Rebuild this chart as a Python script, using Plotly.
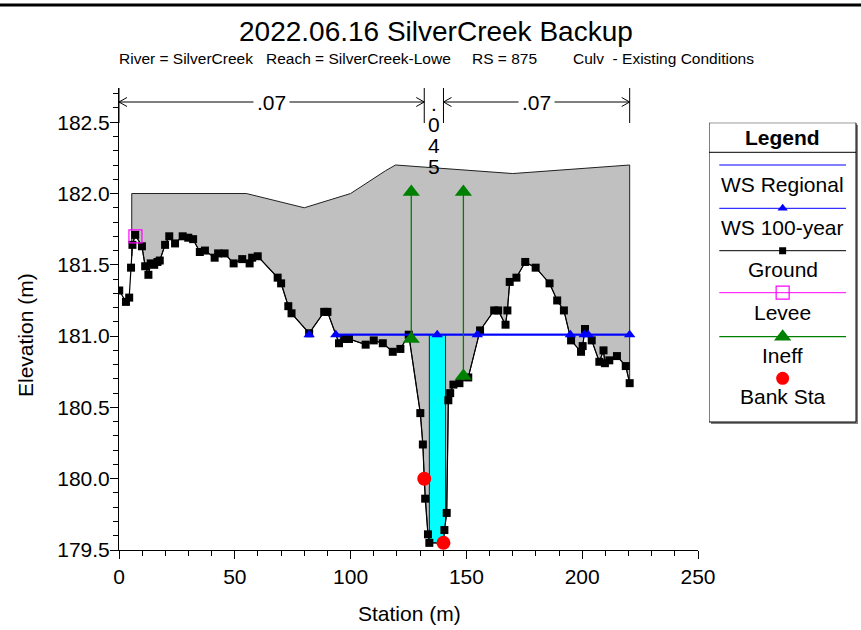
import numpy as np
import plotly.graph_objects as go

# ---------------- data ----------------
# Ground survey points (station m, elevation m)
ground_sta = [0.1, 3.0, 4.4, 5.2, 5.8, 7.0, 9.9, 11.3, 12.7, 13.7, 15.2, 16.6, 17.6,
              19.9, 21.7, 24.2, 27.5, 29.9, 32.0, 34.9, 37.1, 41.3, 42.8, 45.6, 49.5,
              53.2, 56.4, 57.5, 59.9, 68.5, 70.0, 73.1, 74.5, 82.1, 88.6, 90.0, 95.0,
              97.2, 99.3, 106.5, 110.0, 113.9, 118.2, 121.5, 125.1, 130.1, 131.2, 131.8,
              132.2, 133.4, 134.0, 140.1, 140.5, 141.5, 142.2, 143.0, 144.4, 147.0,
              150.8, 155.9, 162.0, 163.7, 166.9, 167.7, 168.7, 171.6, 175.4, 179.9,
              185.9, 189.2, 192.1, 195.2, 199.5, 200.2, 201.2, 204.1, 207.4, 209.2,
              209.8, 211.7, 215.0, 218.8, 220.5]
ground_elev = [181.32, 181.24, 181.27, 181.48, 181.64, 181.71, 181.63, 181.49, 181.43,
               181.51, 181.50, 181.52, 181.53, 181.64, 181.70, 181.65, 181.70, 181.69,
               181.68, 181.59, 181.60, 181.55, 181.58, 181.58, 181.51, 181.54, 181.51,
               181.55, 181.56, 181.41, 181.37, 181.21, 181.16, 181.02, 181.17, 181.17,
               180.95, 180.98, 180.98, 180.94, 180.97, 180.95, 180.89, 180.91, 181.01,
               180.46, 180.24, 180.00, 179.86, 179.61, 179.55, 179.55, 179.64, 179.76,
               180.55, 180.60, 180.66, 180.67, 180.71, 181.04, 181.18, 181.18, 181.08,
               181.18, 181.38, 181.41, 181.52, 181.48, 181.37, 181.25, 181.18, 180.97,
               180.89, 180.93, 181.05, 180.97, 180.82, 180.90, 180.81, 180.83, 180.86,
               180.79, 180.67]

# Road embankment top (deck)
deck_sta = [5.5, 55.0, 80.0, 100.0, 115.1, 119.4, 170.0, 220.5]
deck_elev = [182.00, 182.00, 181.90, 182.00, 182.16, 182.20, 182.14, 182.20]

# Culvert opening
culvert_sta = [134.0, 141.0]
culvert_top = 181.01

# Water surfaces
ws_100_elev = 181.01
ws_100_sta = [82.1, None, 93.6, 137.4, 154.7, 194.9, 200.9, 202.6, 220.5]
ws_reg_elev = 181.01
ws_reg_sta = [93.6, 220.5]

# Levee, ineffective flow areas, bank stations
levee_sta = [7.1]
levee_elev = [181.70]
ineff_sta = [126.2, 148.7]
ineff_top = [182.01, 182.01]
ineff_bottom = [180.98, 180.72]
bank_sta = [131.8, 140.1]
bank_elev = [180.00, 179.55]

# Manning's n breaks and values
n_break_sta = [0.0, 131.8, 140.1, 220.5]
n_values = [".07", ".045", ".07"]

title_text = "2022.06.16 SilverCreek Backup"
subtitle_parts = ["River = SilverCreek", "Reach = SilverCreek-Lowe", "RS = 875",
                  "Culv  - Existing Conditions"]
legend_labels = ["WS Regional", "WS 100-year", "Ground", "Levee", "Ineff", "Bank Sta"]

x_range = [0, 250]
y_range = [179.5, 182.74]

# ---------------- layout constants ----------------
FONT = "Arial, Liberation Sans, sans-serif"
W, H = 861, 630
L, R, T, B = 119, 2, 88, 80
PW, PH = W - L - R, H - T - B
BOTTOM = H - B
X_END_PX = 698


def px_x(p):
    return (p - L) / PW


def px_y(p):
    return (BOTTOM - p) / PH


X_PX_PER = (X_END_PX - L) / (x_range[1] - x_range[0])
Y_PX_PER = PH / (y_range[1] - y_range[0])

BLUE, GREEN, MAG, RED = "#0000ff", "#008000", "#ff00ff", "#ff0000"

gs = np.array(ground_sta)
ge = np.array(ground_elev)

fig = go.Figure()

# Embankment fill between the deck top and the ground
d0, d1 = deck_sta[0], deck_sta[-1]
inner = (gs > d0) & (gs < d1)
poly_x = deck_sta + [d1] + list(gs[inner][::-1]) + [d0, d0]
poly_y = deck_elev + [float(np.interp(d1, gs, ge))] + list(ge[inner][::-1]) + \
    [float(np.interp(d0, gs, ge)), deck_elev[0]]
fig.add_trace(go.Scatter(x=poly_x, y=poly_y, mode="lines", fill="toself",
                         fillcolor="#c0c0c0", line=dict(color="#202020", width=1),
                         hoverinfo="skip", showlegend=False))

# Culvert opening filled with water
cl, cr = culvert_sta
inner_c = (gs > cl) & (gs < cr)
gl, gr = float(np.interp(cl, gs, ge)), float(np.interp(cr, gs, ge))
cx = [cl, cr, cr] + list(gs[inner_c][::-1]) + [cl, cl]
cy = [culvert_top, culvert_top, gr] + list(ge[inner_c][::-1]) + [gl, culvert_top]
fig.add_trace(go.Scatter(x=cx, y=cy, mode="lines", fill="toself", fillcolor="#00ffff",
                         line=dict(width=0), hoverinfo="skip", showlegend=False))
fig.add_trace(go.Scatter(x=[cl, cl, None, cr, cr], y=[gl, culvert_top, None, gr, culvert_top],
                         mode="lines", line=dict(color="#202020", width=1),
                         hoverinfo="skip", showlegend=False))

# Ground
fig.add_trace(go.Scatter(x=ground_sta, y=ground_elev, mode="lines+markers",
                         line=dict(color="black", width=1.2),
                         marker=dict(symbol="square", size=8, color="black"),
                         hoverinfo="skip", showlegend=False))

# Water surfaces
fig.add_trace(go.Scatter(x=ws_reg_sta, y=[ws_reg_elev] * len(ws_reg_sta), mode="lines",
                         line=dict(color=BLUE, width=1.8), hoverinfo="skip", showlegend=False))
fig.add_trace(go.Scatter(x=ws_100_sta,
                         y=[None if s is None else ws_100_elev for s in ws_100_sta],
                         mode="lines+markers", line=dict(color=BLUE, width=1.8),
                         marker=dict(symbol="triangle-up", size=10, color=BLUE),
                         hoverinfo="skip", showlegend=False))

# Ineffective flow areas
ix, iy = [], []
for s, top, bot in zip(ineff_sta, ineff_top, ineff_bottom):
    ix += [s, s, None]
    iy += [bot, top, None]
fig.add_trace(go.Scatter(x=ix, y=iy, mode="lines+markers", line=dict(color=GREEN, width=1.3),
                         marker=dict(symbol="triangle-up", size=15, color=GREEN),
                         hoverinfo="skip", showlegend=False))

# Levee
fig.add_trace(go.Scatter(x=levee_sta, y=levee_elev, mode="markers",
                         marker=dict(symbol="square-open", size=13, color=MAG,
                                     line=dict(width=1.2, color=MAG)),
                         hoverinfo="skip", showlegend=False))

# Bank stations
fig.add_trace(go.Scatter(x=bank_sta, y=bank_elev, mode="markers",
                         marker=dict(symbol="circle", size=14, color=RED),
                         hoverinfo="skip", showlegend=False))

# Manning's n extents drawn above the section
bar_top = y_range[1]
bar_bot = y_range[1] - 35 / Y_PX_PER
arrow_y = y_range[1] - 14 / Y_PX_PER
chev_dx = 8 / X_PX_PER
chev_dy = 4.5 / Y_PX_PER
nx, ny = [], []
for s in n_break_sta:
    nx += [s, s, None]
    ny += [bar_bot, bar_top, None]
annotations = []
for i, val in enumerate(n_values):
    a, b = n_break_sta[i], n_break_sta[i + 1]
    mid = (a + b) / 2
    if (b - a) * X_PX_PER > 40:
        nx += [a, b, None,
               a + chev_dx, a, a + chev_dx, None,
               b - chev_dx, b, b - chev_dx, None]
        ny += [arrow_y, arrow_y, None,
               arrow_y + chev_dy, arrow_y, arrow_y - chev_dy, None,
               arrow_y + chev_dy, arrow_y, arrow_y - chev_dy, None]
        annotations.append(dict(x=mid, y=arrow_y, xref="x", yref="y", text=val,
                                showarrow=False, bgcolor="white", borderpad=3,
                                xanchor="center", yanchor="middle",
                                font=dict(family=FONT, size=21, color="black")))
    else:
        for k, ch in enumerate(val):
            annotations.append(dict(x=mid, y=arrow_y - (1 + 21 * k) / Y_PX_PER,
                                    xref="x", yref="y", text=ch, showarrow=False,
                                    xanchor="center", yanchor="middle",
                                    font=dict(family=FONT, size=21, color="black")))
fig.add_trace(go.Scatter(x=nx, y=ny, mode="lines", line=dict(color="black", width=1),
                         hoverinfo="skip", showlegend=False, cliponaxis=False))

# ---------------- legend panel ----------------
LW, LH = 147, 299.3
line_x0, line_x1 = 10.3, 137.0
lmid = (line_x0 + line_x1) / 2
sample_y = [42.3, 85.6, 128.0, 170.0, 214.0, 255.6]
label_y = [61.8, 104.5, 146.8, 189.5, 232.8, 273.8]
sample_style = [
    dict(color=BLUE, width=1, marker=None),
    dict(color=BLUE, width=1, marker=dict(symbol="triangle-up", size=9, color=BLUE)),
    dict(color="black", width=1, marker=dict(symbol="square", size=7, color="black")),
    dict(color=MAG, width=1, marker=dict(symbol="square-open", size=13, color=MAG,
                                         line=dict(width=1.2, color=MAG))),
    dict(color=GREEN, width=1.3, marker=dict(symbol="triangle-up", size=15, color=GREEN)),
    dict(color=None, width=0, marker=dict(symbol="circle", size=13, color=RED)),
]
for yy, st in zip(sample_y, sample_style):
    if st["color"] is not None:
        fig.add_trace(go.Scatter(x=[line_x0, line_x1], y=[yy, yy], mode="lines",
                                 line=dict(color=st["color"], width=st["width"]),
                                 xaxis="x2", yaxis="y2", hoverinfo="skip", showlegend=False))
    if st["marker"] is not None:
        fig.add_trace(go.Scatter(x=[lmid], y=[yy], mode="markers", marker=st["marker"],
                                 xaxis="x2", yaxis="y2", hoverinfo="skip", showlegend=False))
for yy, lab in zip(label_y, legend_labels):
    annotations.append(dict(x=lmid, y=yy, xref="x2", yref="y2", text=lab, showarrow=False,
                            xanchor="center", yanchor="middle",
                            font=dict(family=FONT, size=21, color="black")))
annotations.append(dict(x=lmid, y=15, xref="x2", yref="y2", text="<b>Legend</b>",
                        showarrow=False, xanchor="center", yanchor="middle",
                        font=dict(family=FONT, size=21, color="black")))

shapes = [
    dict(type="rect", xref="x2", yref="y2", x0=2, x1=LW + 2, y0=2, y1=LH + 2,
         fillcolor="#808080", line=dict(width=0), layer="below"),
    dict(type="rect", xref="x2", yref="y2", x0=0, x1=LW, y0=0, y1=LH,
         fillcolor="white", line=dict(color="black", width=1), layer="below"),
    dict(type="line", xref="x2", yref="y2", x0=0, x1=LW, y0=29.6, y1=29.6,
         line=dict(color="black", width=1)),
    dict(type="line", xref="paper", yref="paper", x0=px_x(-5), x1=px_x(W + 5),
         y0=px_y(5), y1=px_y(5), line=dict(color="black", width=3)),
]

# ---------------- titles ----------------
annotations.append(dict(x=px_x(436), y=px_y(31), xref="paper", yref="paper",
                        text=title_text, showarrow=False, xanchor="center", yanchor="middle",
                        font=dict(family=FONT, size=28, color="black")))
for p, txt in zip([117, 264, 470, 571], subtitle_parts):
    annotations.append(dict(x=px_x(p), y=px_y(59), xref="paper", yref="paper", text=txt,
                            showarrow=False, xanchor="left", yanchor="middle",
                            font=dict(family=FONT, size=15.5, color="black")))
annotations.append(dict(x=px_x(25), y=px_y(335), xref="paper", yref="paper",
                        text="Elevation (m)", textangle=-90, showarrow=False,
                        xanchor="center", yanchor="middle",
                        font=dict(family=FONT, size=21, color="black")))
annotations.append(dict(x=px_x(409), y=px_y(613), xref="paper", yref="paper",
                        text="Station (m)", showarrow=False,
                        xanchor="center", yanchor="middle",
                        font=dict(family=FONT, size=21, color="black")))

axis_common = dict(showgrid=False, zeroline=False, showline=True, linecolor="black",
                   linewidth=1, ticks="outside", ticklen=8, tickwidth=1, tickcolor="black",
                   automargin=False,
                   tickfont=dict(family=FONT, size=21, color="black"))

fig.update_layout(
    width=W, height=H, autosize=False,
    margin=dict(l=L, r=R, t=T, b=B, autoexpand=False),
    paper_bgcolor="white", plot_bgcolor="white",
    showlegend=False,
    xaxis=dict(domain=[0, px_x(X_END_PX)], range=x_range, dtick=50, tick0=0,
               minor=dict(dtick=10, ticklen=5, ticks="outside", tickcolor="black", showgrid=False),
               **axis_common),
    yaxis=dict(domain=[0, 1], range=y_range, dtick=0.5, tick0=179.5, tickformat=".1f",
               ticklabelstandoff=-4,
               minor=dict(dtick=0.1, ticklen=5, ticks="outside", tickcolor="black", showgrid=False),
               **axis_common),
    xaxis2=dict(domain=[px_x(709), 1], range=[0, 150], visible=False, anchor="y2",
                automargin=False),
    yaxis2=dict(domain=[px_y(424.7), px_y(122.7)], range=[302, 0], visible=False, anchor="x2",
                automargin=False),
    annotations=annotations,
    shapes=shapes,
)

fig.write_html("out.html", config={"responsive": False})
